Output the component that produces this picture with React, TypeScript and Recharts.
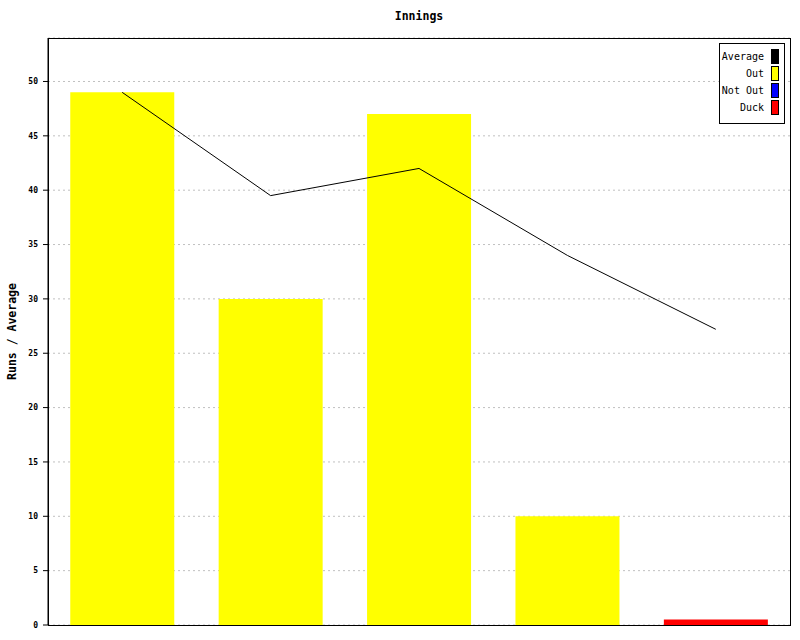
import React from 'react';
import {
  ComposedChart,
  Bar,
  Line,
  XAxis,
  YAxis,
  CartesianGrid,
  ReferenceArea,
  Legend,
} from 'recharts';

// Innings numbers (x categories, not labelled on the axis)
const innings = ['1', '2', '3', '4', '5'];
// Runs scored per innings, split by how the innings ended
const outRuns = [49, 30, 47, 10, 0];
const notOutRuns = [0, 0, 0, 0, 0];
const duckRuns = [0, 0, 0, 0, 0.5];
// Running batting average after each innings
const runningAverage = [49, 39.5, 42, 34, 27.2];
// Y axis ticks
const yTicks = [0, 5, 10, 15, 20, 25, 30, 35, 40, 45, 50];
// Legend entries
const legendNames = ['Average', 'Out', 'Not Out', 'Duck'];
const legendColors = ['#000000', '#ffff00', '#0000ff', '#ff0000'];

const data = innings.map((name, i) => ({
  name,
  out: outRuns[i],
  notOut: notOutRuns[i],
  duck: duckRuns[i],
  average: runningAverage[i],
}));

const FONT = '"DejaVu Sans Mono", monospace';

const LegendBox = () => (
  <div
    style={{
      border: '1px solid #000',
      background: '#fff',
      width: 66,
      boxSizing: 'border-box',
      padding: '4px 5px 7px 0',
      fontFamily: FONT,
      fontSize: 10,
      color: '#000',
    }}
  >
    {legendNames.map((n, i) => (
      <div
        key={n}
        style={{
          height: 17,
          display: 'flex',
          alignItems: 'center',
          justifyContent: 'flex-end',
        }}
      >
        <span style={{ marginRight: 7, lineHeight: '17px' }}>{n}</span>
        <span
          style={{
            display: 'inline-block',
            width: 8,
            height: 15,
            boxSizing: 'border-box',
            border: '1px solid #000',
            background: legendColors[i],
          }}
        />
      </div>
    ))}
  </div>
);

export default function App() {
  return (
    <div
      style={{
        position: 'absolute',
        left: 0,
        top: 0,
        width: 800,
        height: 640,
        background: '#fff',
        fontFamily: FONT,
      }}
    >
      <div
        style={{
          position: 'absolute',
          left: 48,
          width: 742,
          top: 10,
          textAlign: 'center',
          fontSize: 11.5,
          fontWeight: 'bold',
          lineHeight: '13px',
          color: '#000',
        }}
      >
        Innings
      </div>
      <ComposedChart
        width={800}
        height={640}
        data={data}
        margin={{ top: 38, right: 10, bottom: 15, left: 0 }}
        barCategoryGap="15%"
        style={{ fontFamily: FONT }}
      >
        <CartesianGrid
          vertical={false}
          stroke="#c0c0c0"
          strokeDasharray="2 3"
        />
        <XAxis
          dataKey="name"
          height={0}
          tick={false}
          tickLine={false}
          axisLine={{ stroke: '#000' }}
        />
        <YAxis
          width={48}
          domain={[0, 54]}
          ticks={yTicks}
          interval={0}
          tickSize={5}
          tickMargin={5}
          axisLine={{ stroke: '#000' }}
          tickLine={{ stroke: '#000' }}
          tick={{ fill: '#000', fontSize: 8, fontWeight: 'bold', fontFamily: FONT }}
          label={{
            value: 'Runs / Average',
            angle: -90,
            position: 'insideLeft',
            offset: 12,
            textAnchor: 'middle',
            style: {
              fill: '#000',
              fontSize: 11.5,
              fontWeight: 'bold',
              fontFamily: FONT,
              textAnchor: 'middle',
            },
          }}
        />
        <ReferenceArea
          y1={0}
          y2={54}
          stroke="#000"
          strokeOpacity={1}
          fill="none"
          fillOpacity={0}
          shapeRendering="crispEdges"
          ifOverflow="visible"
        />
        <Bar dataKey="out" name="Out" stackId="runs" fill="#ffff00" isAnimationActive={false} />
        <Bar dataKey="notOut" name="Not Out" stackId="runs" fill="#0000ff" isAnimationActive={false} />
        <Bar dataKey="duck" name="Duck" stackId="runs" fill="#ff0000" isAnimationActive={false} />
        <Line
          type="linear"
          dataKey="average"
          name="Average"
          stroke="#000"
          strokeWidth={1}
          dot={false}
          activeDot={false}
          isAnimationActive={false}
        />
        <Legend
          layout="vertical"
          align="center"
          verticalAlign="middle"
          wrapperStyle={{ position: 'absolute', left: 719, top: 43, width: 66 }}
          content={() => <LegendBox />}
        />
      </ComposedChart>
    </div>
  );
}
